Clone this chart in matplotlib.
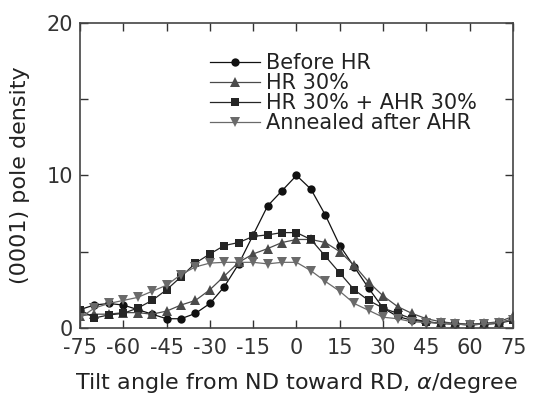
import matplotlib
matplotlib.use("Agg")
import matplotlib.pyplot as plt
from matplotlib.ticker import MultipleLocator

plt.rcParams['font.family'] = ['DejaVu Sans']
plt.rcParams['mathtext.fontset'] = 'dejavusans'

angles = list(range(-75, 80, 5))

before_hr = [1.2, 1.5, 1.6, 1.5, 1.2, 0.9, 0.6, 0.6, 0.95, 1.6, 2.7, 4.2, 6.1, 8.0, 9.0, 10.0,
             9.1, 7.4, 5.4, 4.0, 2.6, 1.3, 0.75, 0.5, 0.4, 0.3, 0.25, 0.2, 0.25, 0.3, 0.6]
hr30 = [0.8, 0.9, 0.9, 1.0, 1.0, 0.9, 1.1, 1.5, 1.8, 2.5, 3.4, 4.3, 4.85, 5.2, 5.6, 5.8,
        5.8, 5.6, 5.0, 4.1, 3.0, 2.1, 1.4, 0.95, 0.6, 0.4, 0.3, 0.25, 0.3, 0.4, 0.75]
hr30_ahr30 = [1.2, 0.65, 0.85, 0.95, 1.3, 1.8, 2.5, 3.35, 4.25, 4.85, 5.4, 5.6, 6.0, 6.1, 6.25, 6.25,
              5.8, 4.7, 3.6, 2.5, 1.8, 1.3, 0.95, 0.6, 0.4, 0.3, 0.25, 0.2, 0.25, 0.3, 0.5]
annealed = [0.65, 1.3, 1.6, 1.8, 2.0, 2.4, 2.8, 3.5, 4.0, 4.25, 4.3, 4.3, 4.3, 4.2, 4.3, 4.3,
            3.75, 3.05, 2.4, 1.6, 1.15, 0.7, 0.6, 0.4, 0.35, 0.3, 0.25, 0.2, 0.25, 0.35, 0.55]

labels = ["Before HR", "HR 30%", "HR 30% + AHR 30%", "Annealed after AHR"]
xticks = [-75, -60, -45, -30, -15, 0, 15, 30, 45, 60, 75]

fig = plt.figure(figsize=(5.33, 3.96), dpi=100)
ax = fig.add_axes([0.150, 0.172, 0.8125, 0.770])

styles = [
    (before_hr, 'o', '#111111', 6),
    (hr30, '^', '#4a4a4a', 7),
    (hr30_ahr30, 's', '#252525', 6.2),
    (annealed, 'v', '#6a6a6a', 7),
]
for (vals, m, c, ms), lab in zip(styles, labels):
    ax.plot(angles, vals, marker=m, color=c, markersize=ms, linewidth=0.9,
            markeredgewidth=0, label=lab)

ax.set_xlim(-75, 75)
ax.set_ylim(0, 20)
ax.set_xticks(xticks)
ax.set_xticklabels([str(t) for t in xticks])
ax.yaxis.set_major_locator(MultipleLocator(10))
ax.yaxis.set_minor_locator(MultipleLocator(5))
ax.tick_params(which='both', direction='in', top=True, right=True, labelsize=15,
               colors='#333333')
ax.tick_params(axis='x', pad=7)
ax.tick_params(axis='y', pad=5)
ax.tick_params(which='major', length=6, width=1)
ax.tick_params(which='minor', length=6, width=1)
for s in ax.spines.values():
    s.set_color('#444444')
    s.set_linewidth(1.2)

ax.set_xlabel("Tilt angle from ND toward RD, $\\alpha$/degree", fontsize=16, color='#222222', labelpad=10)
ax.set_ylabel("(0001) pole density", fontsize=16, color='#222222', labelpad=12)

leg = ax.legend(loc='upper left', bbox_to_anchor=(0.30, 0.90), frameon=False, fontsize=15,
                handlelength=2.4, handletextpad=0.3, labelspacing=0.0, borderaxespad=0,
                borderpad=0)
for t in leg.get_texts():
    t.set_color('#222222')

fig.savefig("out.png", dpi=100)
